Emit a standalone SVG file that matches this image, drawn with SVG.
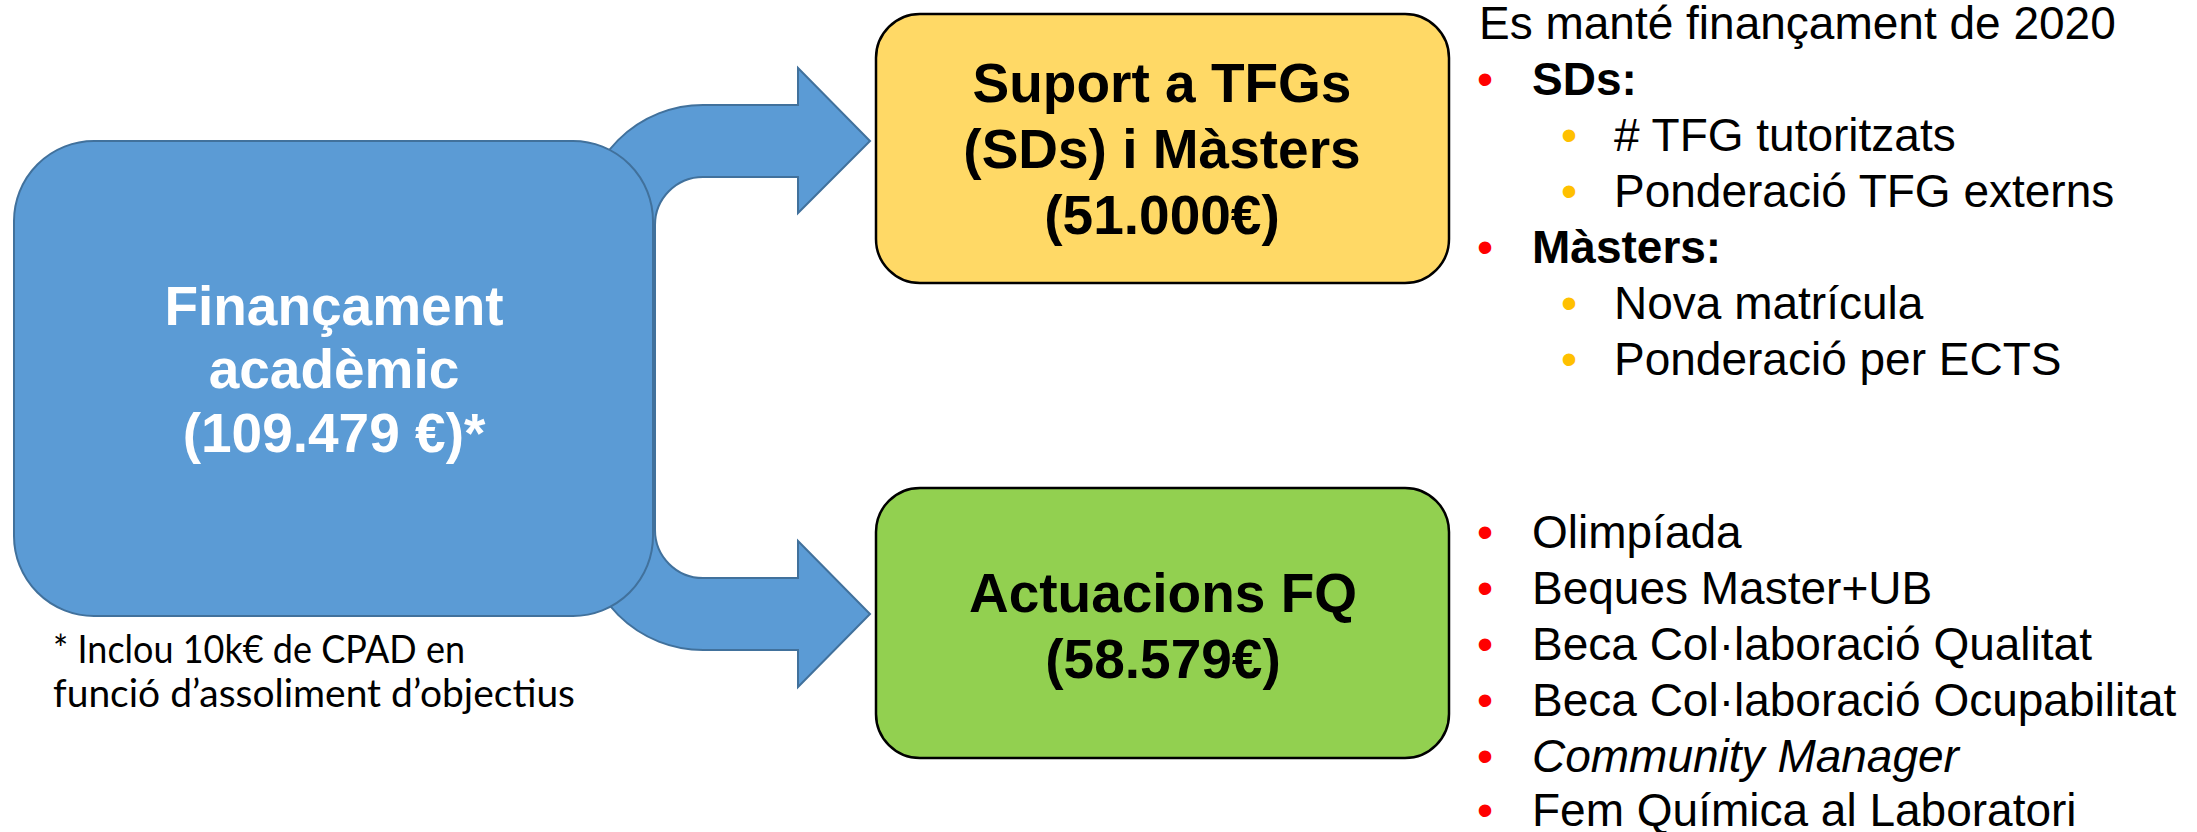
<svg xmlns="http://www.w3.org/2000/svg" width="2197" height="832" viewBox="0 0 2197 832">
<style>
.bg{fill:#ffffff}
.arrow{fill:#5B9BD5;stroke:#41719C;stroke-width:2;stroke-linejoin:miter}
.main{fill:#5B9BD5;stroke:#41719C;stroke-width:2}
.yel{fill:#FFD966;stroke:#000000;stroke-width:2.5}
.grn{fill:#92D050;stroke:#000000;stroke-width:2.5}
.big{font-family:"Liberation Sans",Arial,sans-serif;font-weight:bold;font-size:55px;text-anchor:middle}
.lst{font-family:"Liberation Sans",Arial,sans-serif;font-size:46px;fill:#000}
.b{font-weight:bold}
.it{font-style:italic}
.dotR{font-family:"Liberation Sans",Arial,sans-serif;font-size:46px;fill:#FF0000;text-anchor:middle}
.dotO{font-family:"Liberation Sans",Arial,sans-serif;font-size:46px;fill:#FFC000;text-anchor:middle}
.note{font-family:Lato,"Open Sans",sans-serif;font-size:38px;fill:#000}
</style>
<rect class="bg" x="0" y="0" width="2197" height="832"/>
<g id="connectors">
<path class="arrow" d="M798,105 L703,105 A120,120 0 0 0 583,225 L583,530 A120,120 0 0 0 703,650 L798,650 L798,687 L870,614 L798,541 L798,578 L703,578 A48,48 0 0 1 655,530 L655,225 A48,48 0 0 1 703,177 L798,177 L798,213 L870,141 L798,68 Z"/>
</g>
<g id="node-financament">
<rect class="main" x="14" y="141" width="639" height="475" rx="80" ry="80"/>
<text class="big" fill="#FFFFFF" x="334" y="325">Finançament</text>
<text class="big" fill="#FFFFFF" x="334" y="388">acadèmic</text>
<text class="big" fill="#FFFFFF" x="334" y="452">(109.479 €)*</text>
</g>
<g id="node-suport">
<rect class="yel" x="876" y="14" width="573" height="269" rx="44" ry="44"/>
<text class="big" fill="#000" x="1162" y="102">Suport a TFGs</text>
<text class="big" fill="#000" x="1162" y="168">(SDs) i Màsters</text>
<text class="big" fill="#000" x="1162" y="234">(51.000€)</text>
</g>
<g id="node-actuacions">
<rect class="grn" x="876" y="488" width="573" height="270" rx="44" ry="44"/>
<text class="big" fill="#000" x="1163" y="612">Actuacions FQ</text>
<text class="big" fill="#000" x="1163" y="678">(58.579€)</text>
</g>
<g id="footnote">
<text class="note" x="53" y="663" textLength="412" lengthAdjust="spacingAndGlyphs">* Inclou 10k€ de CPAD en</text>
<text class="note" x="53" y="707" textLength="522" lengthAdjust="spacingAndGlyphs">funció d’assoliment d’objectius</text>
</g>
<g id="list-suport">
<text class="lst" x="1479" y="39">Es manté finançament de 2020</text>
<text class="dotR" x="1485" y="95">•</text>
<text class="lst b" x="1532" y="95">SDs:</text>
<text class="dotO" x="1569" y="151">•</text>
<text class="lst" x="1614" y="151"># TFG tutoritzats</text>
<text class="dotO" x="1569" y="207">•</text>
<text class="lst" x="1614" y="207">Ponderació TFG externs</text>
<text class="dotR" x="1485" y="263">•</text>
<text class="lst b" x="1532" y="263">Màsters:</text>
<text class="dotO" x="1569" y="319">•</text>
<text class="lst" x="1614" y="319">Nova matrícula</text>
<text class="dotO" x="1569" y="375">•</text>
<text class="lst" x="1614" y="375">Ponderació per ECTS</text>
</g>
<g id="list-actuacions">
<text class="dotR" x="1485" y="548">•</text>
<text class="lst" x="1532" y="548">Olimpíada</text>
<text class="dotR" x="1485" y="604">•</text>
<text class="lst" x="1532" y="604">Beques Master+UB</text>
<text class="dotR" x="1485" y="660">•</text>
<text class="lst" x="1532" y="660">Beca Col·laboració Qualitat</text>
<text class="dotR" x="1485" y="716">•</text>
<text class="lst" x="1532" y="716">Beca Col·laboració Ocupabilitat</text>
<text class="dotR" x="1485" y="772">•</text>
<text class="lst it" x="1532" y="772">Community Manager</text>
<text class="dotR" x="1485" y="826">•</text>
<text class="lst" x="1532" y="826">Fem Química al Laboratori</text>
</g>
</svg>
